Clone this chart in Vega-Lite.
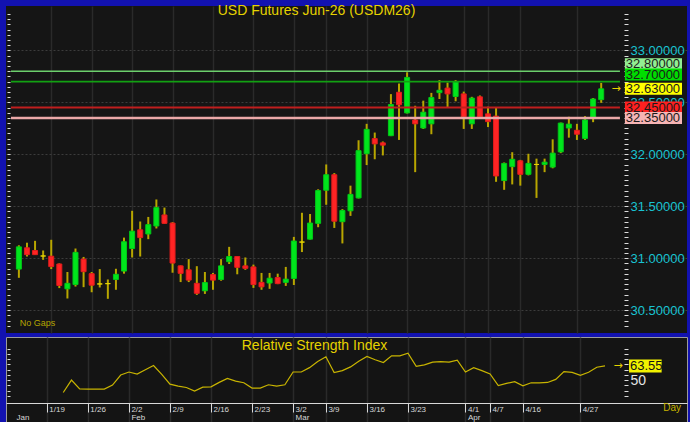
{
"$schema": "https://vega.github.io/schema/vega-lite/v6.json",
"background": "#1212b0",
"padding": {"left": 5, "top": 4, "right": 4, "bottom": 0},
"spacing": 4,
"bounds": "flush",
"config": {"font": "Liberation Sans", "view": {"stroke": null}},
"datasets": {
"ohlc": [
{"i":1,"o":30.895,"h":31.124,"l":30.811,"c":31.109},
{"i":2,"o":31.100,"h":31.149,"l":31.016,"c":31.034},
{"i":3,"o":31.074,"h":31.167,"l":31.031,"c":31.034},
{"i":4,"o":31.021,"h":31.074,"l":30.984,"c":31.021},
{"i":5,"o":31.019,"h":31.177,"l":30.895,"c":30.919},
{"i":6,"o":30.944,"h":30.950,"l":30.712,"c":30.737},
{"i":7,"o":30.705,"h":30.867,"l":30.612,"c":30.758,"r":38.1},
{"i":8,"o":30.746,"h":31.093,"l":30.727,"c":31.056,"r":50.0},
{"i":9,"o":30.991,"h":31.012,"l":30.721,"c":30.870,"r":41.5},
{"i":10,"o":30.851,"h":30.867,"l":30.672,"c":30.740,"r":41.3},
{"i":11,"o":30.752,"h":30.895,"l":30.718,"c":30.752,"r":41.3},
{"i":12,"o":30.755,"h":30.795,"l":30.609,"c":30.755,"r":41.3},
{"i":13,"o":30.795,"h":30.898,"l":30.696,"c":30.845,"r":45.2},
{"i":14,"o":30.876,"h":31.198,"l":30.851,"c":31.158,"r":54.8},
{"i":15,"o":31.093,"h":31.456,"l":31.007,"c":31.260,"r":57.7},
{"i":16,"o":31.273,"h":31.353,"l":31.016,"c":31.198,"r":55.8},
{"i":17,"o":31.233,"h":31.397,"l":31.183,"c":31.323,"r":59.8},
{"i":18,"o":31.310,"h":31.565,"l":31.286,"c":31.487,"r":63.9},
{"i":19,"o":31.416,"h":31.487,"l":31.330,"c":31.335,"r":55.5},
{"i":20,"o":31.338,"h":31.347,"l":30.860,"c":30.953,"r":46.1},
{"i":21,"o":30.926,"h":30.930,"l":30.770,"c":30.854,"r":44.2},
{"i":22,"o":30.888,"h":30.991,"l":30.770,"c":30.789,"r":42.9},
{"i":23,"o":30.758,"h":30.923,"l":30.647,"c":30.662,"r":39.4},
{"i":24,"o":30.686,"h":30.867,"l":30.656,"c":30.765,"r":43.2},
{"i":25,"o":30.842,"h":30.858,"l":30.696,"c":30.789,"r":43.5},
{"i":26,"o":30.795,"h":30.991,"l":30.783,"c":30.926,"r":47.8},
{"i":27,"o":30.966,"h":31.109,"l":30.944,"c":31.016,"r":51.6},
{"i":28,"o":31.016,"h":31.020,"l":30.845,"c":30.912,"r":49.0},
{"i":29,"o":30.926,"h":31.007,"l":30.888,"c":30.902,"r":47.4},
{"i":30,"o":30.916,"h":30.938,"l":30.714,"c":30.746,"r":42.3},
{"i":31,"o":30.767,"h":30.858,"l":30.696,"c":30.724,"r":42.3},
{"i":32,"o":30.761,"h":30.858,"l":30.705,"c":30.807,"r":45.5},
{"i":33,"o":30.814,"h":30.851,"l":30.750,"c":30.755,"r":44.2},
{"i":34,"o":30.767,"h":30.916,"l":30.733,"c":30.798,"r":45.5},
{"i":35,"o":30.805,"h":31.205,"l":30.742,"c":31.165,"r":57.7},
{"i":36,"o":31.155,"h":31.437,"l":31.059,"c":31.155,"r":57.7},
{"i":37,"o":31.183,"h":31.425,"l":31.180,"c":31.338,"r":61.9},
{"i":38,"o":31.335,"h":31.663,"l":31.298,"c":31.651,"r":67.7},
{"i":39,"o":31.654,"h":31.902,"l":31.514,"c":31.803,"r":72.3},
{"i":40,"o":31.803,"h":31.819,"l":31.291,"c":31.356,"r":57.1},
{"i":41,"o":31.351,"h":31.472,"l":31.142,"c":31.459,"r":59.0},
{"i":42,"o":31.456,"h":31.698,"l":31.407,"c":31.614,"r":62.6},
{"i":43,"o":31.580,"h":32.135,"l":31.575,"c":32.035,"r":68.0},
{"i":44,"o":32.005,"h":32.293,"l":31.896,"c":32.240,"r":72.6},
{"i":45,"o":32.151,"h":32.209,"l":31.952,"c":32.100,"r":69.4},
{"i":46,"o":32.110,"h":32.123,"l":31.989,"c":32.088,"r":66.8},
{"i":47,"o":32.179,"h":32.579,"l":32.175,"c":32.479,"r":73.2},
{"i":48,"o":32.597,"h":32.681,"l":32.138,"c":32.476,"r":73.2},
{"i":49,"o":32.398,"h":32.789,"l":32.393,"c":32.740,"r":75.8},
{"i":50,"o":32.330,"h":32.467,"l":31.828,"c":32.293,"r":63.2},
{"i":51,"o":32.253,"h":32.516,"l":32.244,"c":32.405,"r":64.5},
{"i":52,"o":32.293,"h":32.591,"l":32.193,"c":32.547,"r":67.1},
{"i":53,"o":32.593,"h":32.714,"l":32.532,"c":32.616,"r":67.7},
{"i":54,"o":32.637,"h":32.690,"l":32.448,"c":32.581,"r":67.1},
{"i":55,"o":32.556,"h":32.714,"l":32.510,"c":32.696,"r":69.0},
{"i":56,"o":32.581,"h":32.603,"l":32.244,"c":32.361,"r":57.7},
{"i":57,"o":32.293,"h":32.553,"l":32.244,"c":32.541,"r":61.9},
{"i":58,"o":32.553,"h":32.566,"l":32.349,"c":32.361,"r":59.0},
{"i":59,"o":32.389,"h":32.458,"l":32.262,"c":32.314,"r":55.8},
{"i":60,"o":32.367,"h":32.454,"l":31.735,"c":31.791,"r":44.8},
{"i":61,"o":31.747,"h":31.921,"l":31.658,"c":31.912,"r":46.8},
{"i":62,"o":31.881,"h":32.020,"l":31.710,"c":31.952,"r":48.4},
{"i":63,"o":31.937,"h":31.946,"l":31.698,"c":31.807,"r":44.5},
{"i":64,"o":31.807,"h":32.005,"l":31.797,"c":31.912,"r":47.4},
{"i":65,"o":31.902,"h":31.958,"l":31.580,"c":31.902,"r":47.4},
{"i":66,"o":31.902,"h":31.958,"l":31.828,"c":31.924,"r":47.7},
{"i":67,"o":31.877,"h":32.144,"l":31.865,"c":32.011,"r":50.6},
{"i":68,"o":32.023,"h":32.305,"l":32.011,"c":32.300,"r":58.1},
{"i":69,"o":32.253,"h":32.361,"l":32.160,"c":32.290,"r":57.4},
{"i":70,"o":32.231,"h":32.293,"l":32.138,"c":32.193,"r":54.5},
{"i":71,"o":32.153,"h":32.367,"l":32.138,"c":32.330,"r":57.4},
{"i":72,"o":32.358,"h":32.541,"l":32.309,"c":32.532,"r":62.3},
{"i":73,"o":32.526,"h":32.687,"l":32.495,"c":32.630,"r":63.55}
],
"levels": [
{"name":"R2","v":32.80},
{"name":"R1","v":32.70},
{"name":"Last","v":32.63},
{"name":"S1","v":32.45},
{"name":"S2","v":32.35}
]
},
"vconcat": [
{
"width": 681, "height": 327,
"view": {"fill": "#151515", "stroke": null},
"title": {"text": "USD Futures Jun-26 (USDM26)", "color": "#e6d200", "fontSize": 14, "fontWeight": "normal", "font": "Liberation Sans", "offset": -12, "anchor": "middle", "dx": -30},
"resolve": {"axis": {"y": "independent"}},
"layer": [
{
"data": {"name": "ohlc"},
"mark": {"type": "rule", "color": "#b8a600", "strokeWidth": 2},
"encoding": {
"x": {"field": "i", "type": "quantitative", "scale": {"domain": [0.0254, 82.99], "nice": false, "zero": false},
"axis": {"orient": "bottom", "values": [5,10,15,20,25,30,35,39,44,49,56,59,63,70], "labels": false, "ticks": false, "domain": false, "grid": true, "gridColor": "#2a2a2a", "gridWidth": 1.5, "title": null}},
"y": {"field": "l", "type": "quantitative", "scale": {"domain": [30.328, 33.379], "nice": false, "zero": false},
"axis": {"orient": "right", "offset": -63, "values": [30.35,30.4,30.45,30.5,30.55,30.6,30.65,30.7,30.75,30.8,30.85,30.9,30.95,31,31.05,31.1,31.15,31.2,31.25,31.3,31.35,31.4,31.45,31.5,31.55,31.6,31.65,31.7,31.75,31.8,31.85,31.9,31.95,32,32.05,32.1,32.15,32.2,32.25,32.3,32.35,32.4,32.45,32.5,32.55,32.6,32.65,32.7,32.75,32.8,32.85,32.9,32.95,33,33.05,33.1,33.15,33.2,33.25,33.3,33.35],
"labelExpr": "abs(datum.value*2-round(datum.value*2)) < 0.01 ? format(datum.value, '.5f') : ''",
"labelColor": "#19c3d2", "labelFontSize": 13, "labelFont": "Liberation Sans", "labelPadding": 2, "labelOverlap": false, "labelBound": false, "labelFlush": false,
"tickColor": "#dcdcdc", "tickSize": 4, "domain": false, "grid": true, "gridColor": "#3c3c3c", "gridDash": [2,2],
"gridOpacity": {"condition": {"test": "abs(datum.value*2-round(datum.value*2)) < 0.01", "value": 1}, "value": 0}, "title": null}},
"y2": {"field": "h"}
}
},
{
"data": {"name": "ohlc"},
"mark": {"type": "bar", "width": 5, "strokeWidth": 1},
"encoding": {
"x": {"field": "i", "type": "quantitative"},
"y": {"field": "o", "type": "quantitative",
"axis": {"orient": "left", "offset": -4, "values": [30.35,30.4,30.45,30.5,30.55,30.6,30.65,30.7,30.75,30.8,30.85,30.9,30.95,31,31.05,31.1,31.15,31.2,31.25,31.3,31.35,31.4,31.45,31.5,31.55,31.6,31.65,31.7,31.75,31.8,31.85,31.9,31.95,32,32.05,32.1,32.15,32.2,32.25,32.3,32.35,32.4,32.45,32.5,32.55,32.6,32.65,32.7,32.75,32.8,32.85,32.9,32.95,33,33.05,33.1,33.15,33.2,33.25,33.3,33.35], "labels": false, "tickColor": "#dcdcdc", "tickSize": 3, "domain": false, "grid": false, "title": null}},
"y2": {"field": "c"},
"fill": {"condition": [{"test": "datum.c > datum.o", "value": "#00e61c"}, {"test": "datum.c < datum.o", "value": "#ff2424"}], "value": "#e6d400"},
"stroke": {"condition": [{"test": "datum.c > datum.o", "value": "#00c818"}, {"test": "datum.c < datum.o", "value": "#e01c1c"}], "value": "#e6d400"}
}
},
{
"data": {"name": "levels"},
"transform": [{"filter": "datum.name != 'Last'"}],
"mark": {"type": "rule"},
"encoding": {
"x": {"datum": 0.0254}, "x2": {"datum": 75.316},
"y": {"field": "v", "type": "quantitative", "axis": null},
"stroke": {"field": "name", "type": "nominal", "scale": {"domain": ["R2","R1","S1","S2"], "range": ["#6ccf6c","#12a012","#c01e1e","#eaa8a8"]}, "legend": null},
"strokeWidth": {"field": "name", "type": "nominal", "scale": {"domain": ["R2","R1","S1","S2"], "range": [1.5, 2.5, 1.5, 1.5]}, "legend": null}
}
},
{
"data": {"name": "levels"},
"transform": [{"filter": "datum.v >= 32.7"}],
"mark": {"type": "bar", "orient": "horizontal", "height": 12, "yOffset": -7},
"encoding": {
"x": {"datum": 75.93}, "x2": {"datum": 82.99},
"y": {"field": "v", "type": "quantitative", "axis": null},
"fill": {"field": "name", "type": "nominal", "scale": {"domain": ["R2","R1","Last","S1","S2"], "range": ["#92ee92","#00dc00","#ffff00","#ff2020","#f6b4b4"]}, "legend": null}
}
},
{
"data": {"name": "levels"},
"transform": [{"filter": "datum.v < 32.7"}],
"mark": {"type": "bar", "orient": "horizontal", "height": 12},
"encoding": {
"x": {"datum": 75.93}, "x2": {"datum": 82.99},
"y": {"field": "v", "type": "quantitative", "axis": null},
"fill": {"field": "name", "type": "nominal", "legend": null}
}
},
{
"data": {"name": "levels"},
"transform": [{"filter": "datum.v >= 32.7"}],
"mark": {"type": "text", "align": "left", "baseline": "middle", "fontSize": 13, "yOffset": -7, "color": "#1a1a1a"},
"encoding": {
"x": {"datum": 76.05},
"y": {"field": "v", "type": "quantitative", "axis": null},
"text": {"field": "v", "type": "quantitative", "format": ".5f"}
}
},
{
"data": {"name": "levels"},
"transform": [{"filter": "datum.v < 32.7"}],
"mark": {"type": "text", "align": "left", "baseline": "middle", "fontSize": 13, "color": "#1a1a1a"},
"encoding": {
"x": {"datum": 76.05},
"y": {"field": "v", "type": "quantitative", "axis": null},
"text": {"field": "v", "type": "quantitative", "format": ".5f"}
}
},
{
"data": {"name": "ohlc"},
"transform": [{"filter": "datum.i == 73"}],
"mark": {"type": "text", "align": "center", "baseline": "middle", "fontSize": 11, "font": "DejaVu Sans", "color": "#e6d200"},
"encoding": {
"x": {"datum": 74.83},
"y": {"field": "c", "type": "quantitative", "axis": null},
"text": {"value": "→"}
}
},
{
"data": {"values": [{"note": "No Gaps", "px": 1.12, "py": 30.375}]},
"mark": {"type": "text", "align": "left", "baseline": "middle", "fontSize": 9, "color": "#b4a400"},
"encoding": {
"x": {"field": "px", "type": "quantitative"},
"y": {"field": "py", "type": "quantitative", "axis": null},
"text": {"field": "note"}
}
}
]
},
{
"width": 681, "height": 87,
"view": {"fill": "#141414", "stroke": "#9c9c9c", "strokeWidth": 1},
"title": {"text": "Relative Strength Index", "color": "#e6d200", "fontSize": 14, "fontWeight": "normal", "font": "Liberation Sans", "offset": -16, "anchor": "middle", "dx": -32},
"resolve": {"axis": {"y": "independent"}},
"layer": [
{
"data": {"name": "ohlc"},
"mark": {"type": "line", "color": "#c8b400", "strokeWidth": 1.2},
"encoding": {
"x": {"field": "i", "type": "quantitative", "scale": {"domain": [0.0254, 82.99], "nice": false, "zero": false},
"axis": {"orient": "bottom", "offset": -21, "values": [1,5,10,15,20,25,30,35,39,44,49,56,59,63,70],
"labelExpr": "{'1':['','Jan'],'5':'1/19','10':'1/26','15':['2/2','Feb'],'20':'2/9','25':'2/16','30':'2/23','35':['3/2','Mar'],'39':'3/9','44':'3/16','49':'3/23','56':['4/1','Apr'],'59':'4/7','63':'4/16','70':'4/27'}[datum.value]",
"labelColor": "#d8d8d8", "labelFontSize": 8, "labelFont": "Liberation Sans", "labelAlign": "left", "labelBaseline": "top", "labelPadding": -7, "labelOffset": 2, "labelLineHeight": 8.5,
"labelOverlap": false, "labelBound": false, "labelFlush": false,
"tickColor": "#d8d8d8", "tickSize": 9, "tickOpacity": {"condition": {"test": "datum.value == 1", "value": 0}, "value": 1},
"domain": true, "domainColor": "#d8d8d8",
"grid": true, "gridColor": "#2a2a2a", "gridWidth": 1.5, "gridOpacity": {"condition": {"test": "datum.value == 1", "value": 0}, "value": 1}, "title": null}},
"y": {"field": "r", "type": "quantitative", "scale": {"domain": [12.74, 86.42], "nice": false, "zero": false},
"axis": {"orient": "right", "offset": -63, "values": [35,40,45,50,55,60,65,70,75,80], "labelExpr": "datum.value == 50 ? '50' : ''",
"labelColor": "#e4e4e4", "labelFontSize": 14, "labelPadding": 2, "labelOverlap": false, "labelBound": false, "labelFlush": false,
"tickColor": "#dcdcdc", "tickSize": 4, "domain": false, "grid": false, "title": null}}
}
},
{
"data": {"name": "ohlc"},
"transform": [{"filter": "datum.i == 73"}],
"mark": {"type": "bar", "orient": "horizontal", "height": 13, "color": "#f2f200"},
"encoding": {
"x": {"datum": 75.93}, "x2": {"datum": 79.9},
"y": {"field": "r", "type": "quantitative",
"axis": {"orient": "left", "offset": -4, "values": [35,40,45,50,55,60,65,70,75,80], "labels": false, "tickColor": "#dcdcdc", "tickSize": 3, "domain": false, "grid": false, "title": null}}
}
},
{
"data": {"name": "ohlc"},
"transform": [{"filter": "datum.i == 73"}],
"mark": {"type": "text", "align": "left", "baseline": "middle", "fontSize": 13, "color": "#141414"},
"encoding": {
"x": {"datum": 76.05},
"y": {"field": "r", "type": "quantitative", "axis": null},
"text": {"field": "r", "type": "quantitative", "format": ".2f"}
}
},
{
"data": {"name": "ohlc"},
"transform": [{"filter": "datum.i == 73"}],
"mark": {"type": "text", "align": "center", "baseline": "middle", "fontSize": 11, "font": "DejaVu Sans", "color": "#e6d200"},
"encoding": {
"x": {"datum": 74.6},
"y": {"field": "r", "type": "quantitative", "axis": null},
"text": {"value": "→"}
}
},
{
"data": {"values": [{"note": "Day", "px": 80.1, "py": 22.9}]},
"mark": {"type": "text", "align": "left", "baseline": "middle", "fontSize": 10, "color": "#c8b400"},
"encoding": {
"x": {"field": "px", "type": "quantitative"},
"y": {"field": "py", "type": "quantitative", "axis": null},
"text": {"field": "note"}
}
}
]
}
]
}
